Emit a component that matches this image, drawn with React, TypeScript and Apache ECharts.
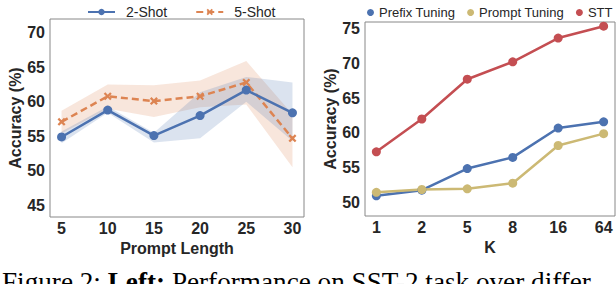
import React, { useEffect, useRef } from "react";
import * as echarts from "echarts";

// Left panel: accuracy vs prompt length
const promptLengths = [5, 10, 15, 20, 25, 30];
const shot2 = [54.9, 58.8, 55.1, 58.0, 61.7, 58.4];
const shot2Lo = [54.0, 58.4, 54.1, 54.7, 60.0, 54.3];
const shot2Hi = [55.7, 59.3, 55.5, 61.4, 63.6, 62.8];
const shot5 = [57.1, 60.8, 60.1, 60.8, 62.8, 54.7];
const shot5Lo = [55.4, 59.0, 57.8, 59.2, 59.6, 50.5];
const shot5Hi = [58.7, 62.5, 62.4, 63.1, 65.9, 58.2];
const leftYTicks = [45, 50, 55, 60, 65, 70];

// Right panel: accuracy vs K
const kLabels = ["1", "2", "5", "8", "16", "64"];
const prefixTuning = [51.0, 51.8, 54.9, 56.5, 60.7, 61.6];
const promptTuning = [51.5, 51.9, 52.0, 52.8, 58.2, 59.9];
const sttValues = [57.3, 62.0, 67.7, 70.2, 73.6, 75.3];
const rightYTicks = [50, 55, 60, 65, 70, 75];

const BLUE = "#4C72B0";
const ORANGE = "#DD8452";
const KHAKI = "#CCB974";
const RED = "#C44E52";
const TXT = "#262626";
const FONT = "Liberation Sans";
const X_SYMBOL = "path://M2,0 L5,3 L8,0 L10,2 L7,5 L10,8 L8,10 L5,7 L2,10 L0,8 L3,5 L0,2 Z";

function bandSeries(xs: number[], lo: number[], hi: number[], color: string) {
  return {
    type: "custom",
    xAxisIndex: 0,
    yAxisIndex: 0,
    silent: true,
    data: xs.map((x, i) => [x, lo[i], hi[i]]),
    renderItem: (params: any, api: any) => {
      if (params.dataIndex !== 0) return null;
      const upper = xs.map((x, i) => api.coord([x, hi[i]]));
      const lower = xs.map((x, i) => api.coord([x, lo[i]])).reverse();
      return {
        type: "polygon",
        shape: { points: upper.concat(lower) },
        style: { fill: color, opacity: 0.2 },
      };
    },
    z: 1,
  };
}

export default function App() {
  const ref = useRef<HTMLDivElement>(null);
  useEffect(() => {
    document.body.style.margin = "0";
    const chart = echarts.init(ref.current!, null, { renderer: "svg" });
    const xy = (xs: number[], ys: number[]) => xs.map((x, i) => [x, ys[i]]);
    const idx = kLabels.map((_, i) => i);

    const tickLabel = { color: TXT, fontFamily: FONT, fontWeight: "bold" as const, fontSize: 16 };
    const nameStyle = { color: TXT, fontFamily: FONT, fontWeight: "bold" as const, fontSize: 16 };

    const option: any = {
      animation: false,
      backgroundColor: "#fff",
      legend: [
        {
          left: 82,
          top: 0,
          itemWidth: 27,
          itemHeight: 8,
          itemGap: 28,
          data: ["2-Shot", "5-Shot"],
          textStyle: { color: TXT, fontFamily: FONT, fontSize: 14, padding: [0, 0, 0, 6] },
        },
        {
          left: 362,
          top: 1,
          width: 260,
          icon: "circle",
          itemWidth: 7,
          itemHeight: 7,
          itemGap: 12,
          data: ["Prefix Tuning", "Prompt Tuning", "STT"],
          textStyle: { color: TXT, fontFamily: FONT, fontSize: 13 },
        },
      ],
      grid: [
        { left: 50, top: 19, width: 254, height: 198, show: true, borderColor: "#888", borderWidth: 1 },
        { left: 365, top: 22, width: 250, height: 194, show: true, borderColor: "#888", borderWidth: 1 },
      ],
      xAxis: [
        {
          gridIndex: 0,
          type: "value",
          min: 3.75,
          max: 31.25,
          name: "Prompt Length",
          nameLocation: "middle",
          nameGap: 22,
          nameTextStyle: nameStyle,
          axisLine: { show: false },
          axisTick: { show: false },
          splitLine: { show: false },
          axisLabel: { ...tickLabel, margin: 3, customValues: promptLengths },
        },
        {
          gridIndex: 1,
          type: "value",
          min: -0.25,
          max: 5.25,
          name: "K",
          nameLocation: "middle",
          nameGap: 22,
          nameTextStyle: nameStyle,
          axisLine: { show: false },
          axisTick: { show: false },
          splitLine: { show: false },
          axisLabel: { ...tickLabel, margin: 3, customValues: idx, formatter: (v: number) => kLabels[Math.round(v)] ?? "" },
        },
      ],
      yAxis: [
        {
          gridIndex: 0,
          type: "value",
          min: 43.3,
          max: 72,
          name: "Accuracy (%)",
          nameLocation: "middle",
          nameGap: 23,
          nameTextStyle: nameStyle,
          axisLine: { show: false },
          axisTick: { show: false },
          splitLine: { show: false },
          axisLabel: { ...tickLabel, margin: 5, customValues: leftYTicks },
        },
        {
          gridIndex: 1,
          type: "value",
          min: 48.1,
          max: 75.9,
          name: "Accuracy (%)",
          nameLocation: "middle",
          nameGap: 23,
          nameTextStyle: nameStyle,
          axisLine: { show: false },
          axisTick: { show: false },
          splitLine: { show: false },
          axisLabel: { ...tickLabel, margin: 5, customValues: rightYTicks },
        },
      ],
      series: [
        bandSeries(promptLengths, shot5Lo, shot5Hi, ORANGE),
        bandSeries(promptLengths, shot2Lo, shot2Hi, BLUE),
        {
          name: "5-Shot", type: "line", xAxisIndex: 0, yAxisIndex: 0, z: 3,
          data: xy(promptLengths, shot5), symbol: X_SYMBOL, symbolSize: 8,
          lineStyle: { color: ORANGE, width: 2.5, type: [7, 4] }, itemStyle: { color: ORANGE },
        },
        {
          name: "2-Shot", type: "line", xAxisIndex: 0, yAxisIndex: 0, z: 4,
          data: xy(promptLengths, shot2), symbol: "circle", symbolSize: 9,
          lineStyle: { color: BLUE, width: 2.5 }, itemStyle: { color: BLUE },
        },
        {
          name: "Prefix Tuning", type: "line", xAxisIndex: 1, yAxisIndex: 1,
          data: xy(idx, prefixTuning), symbol: "circle", symbolSize: 9,
          lineStyle: { color: BLUE, width: 2.5 }, itemStyle: { color: BLUE },
        },
        {
          name: "Prompt Tuning", type: "line", xAxisIndex: 1, yAxisIndex: 1,
          data: xy(idx, promptTuning), symbol: "circle", symbolSize: 9,
          lineStyle: { color: KHAKI, width: 2.5 }, itemStyle: { color: KHAKI },
        },
        {
          name: "STT", type: "line", xAxisIndex: 1, yAxisIndex: 1,
          data: xy(idx, sttValues), symbol: "circle", symbolSize: 9,
          lineStyle: { color: RED, width: 2.5 }, itemStyle: { color: RED },
        },
      ],
      graphic: [
        {
          type: "text",
          left: 2,
          top: 268,
          style: {
            text: "{n|Figure 2: }{b|Left:}{n| Performance on SST-2 task over differ}",
            rich: {
              n: { fontFamily: "Liberation Serif", fontSize: 27.2, fill: "#000" },
              b: { fontFamily: "Liberation Serif", fontSize: 27.2, fontWeight: "bold", fill: "#000" },
            },
          },
        },
      ],
    };
    chart.setOption(option);
    return () => chart.dispose();
  }, []);
  return <div ref={ref} style={{ width: 616, height: 284 }} />;
}
